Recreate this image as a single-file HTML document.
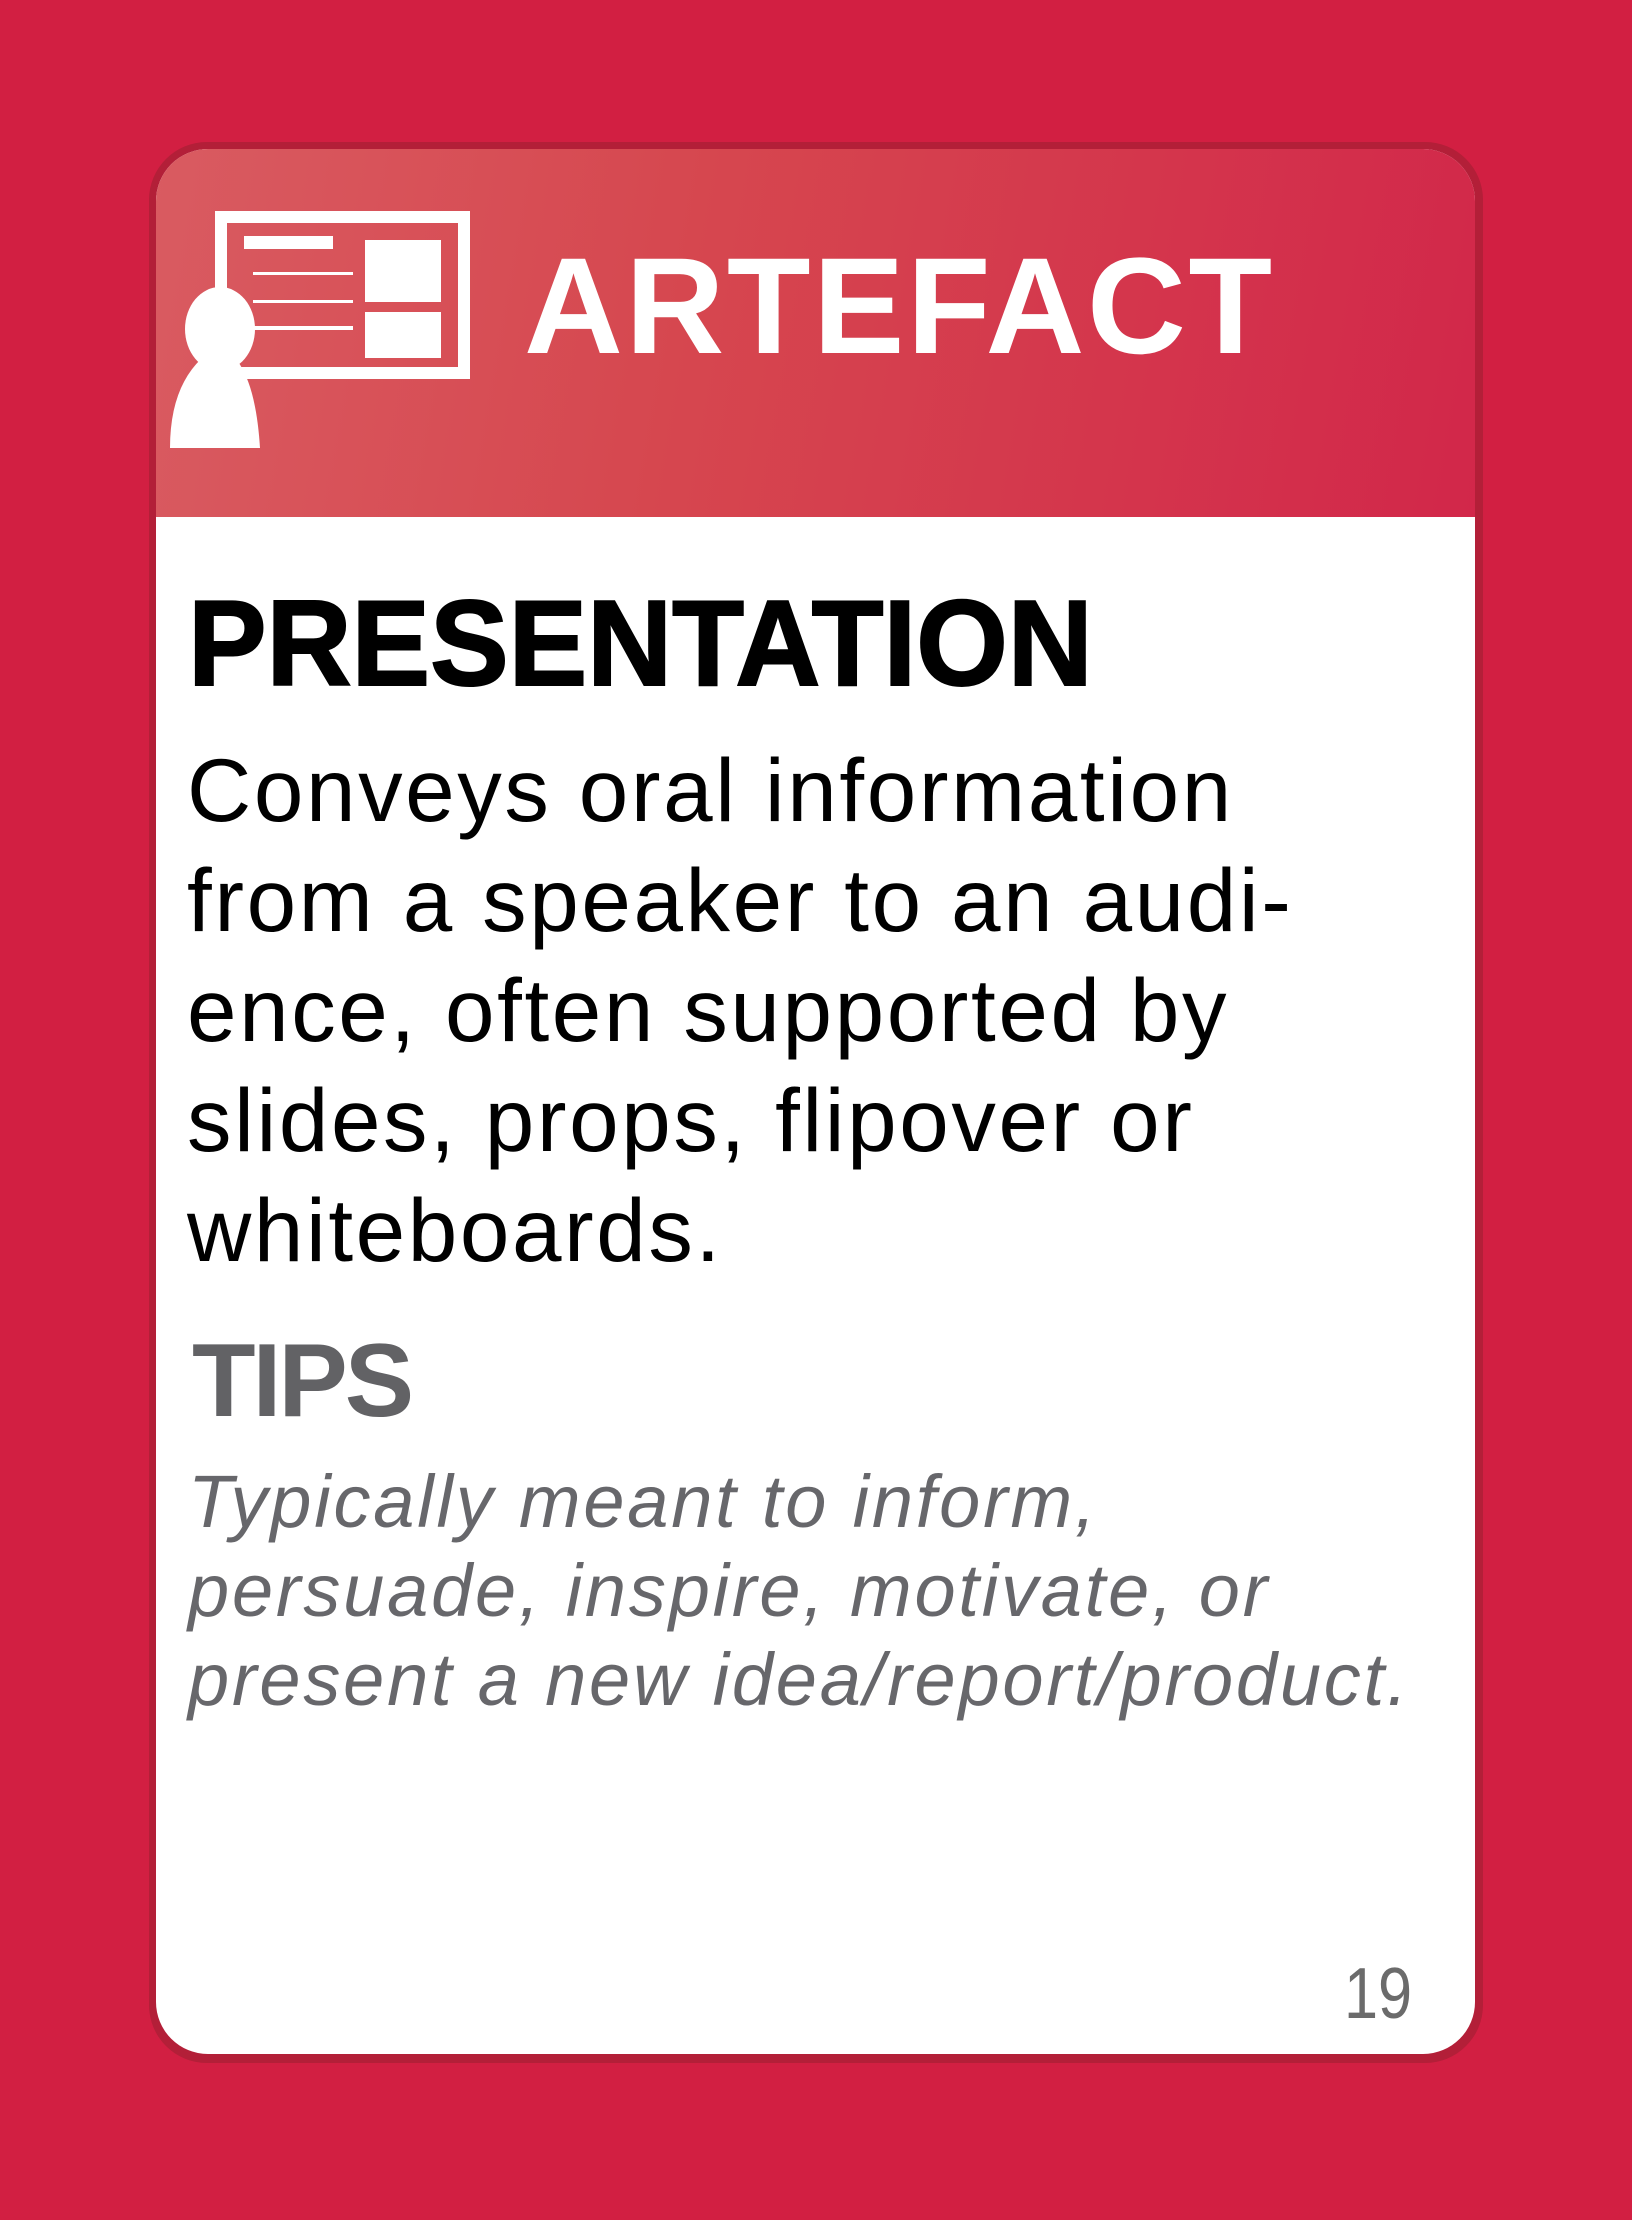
<!DOCTYPE html>
<html><head><meta charset="utf-8"><style>
html,body{margin:0;padding:0}
body{width:1632px;height:2220px;background:#d21f42;position:relative;overflow:hidden;font-family:"Liberation Sans",sans-serif}
.card{position:absolute;left:149px;top:142px;width:1334px;height:1921px;background:#b31f38;border-radius:58px}
.inner{position:absolute;left:7px;top:7px;width:1319px;height:1905px;background:#fff;border-radius:52px;overflow:hidden}
.head{position:absolute;left:0;top:0;width:1319px;height:368px;background:linear-gradient(100deg,#d95b61 0%,#d6474f 40%,#d2274a 100%)}
.t{position:absolute;white-space:nowrap;line-height:1}
</style></head><body>
<div class="card">
 <div class="inner">
  <div class="head">
   <svg width="340" height="320" style="position:absolute;left:0;top:0" viewBox="0 0 340 320">
    <rect x="65" y="68" width="243" height="156" fill="none" stroke="#fff" stroke-width="12"/>
    <rect x="88" y="87" width="89" height="13" fill="#fff"/>
    <rect x="97" y="123" width="100" height="3" fill="#fff"/>
    <rect x="97" y="151" width="100" height="3" fill="#fff"/>
    <rect x="97" y="177" width="100" height="4" fill="#fff"/>
    <rect x="209" y="91" width="76" height="62" fill="#fff"/>
    <rect x="209" y="163" width="76" height="46" fill="#fff"/>
    <ellipse cx="64" cy="180" rx="35" ry="42" fill="#fff"/>
    <path d="M45 210 L80 210 Q100 235 104 299 L14 299 Q14 240 45 210 Z" fill="#fff"/>
   </svg>
   <div class="t" style="left:368px;top:89px;font-size:137px;font-weight:bold;color:#fff;letter-spacing:2.5px">ARTEFACT</div>
  </div>
  <div class="t" style="left:32px;top:433px;font-size:122px;font-weight:bold;color:#000;transform:scaleX(0.965);transform-origin:left top;-webkit-text-stroke:2px #000">PRESENTATION</div>
  <div style="position:absolute;left:31px;top:586px;font-size:89px;line-height:110px;color:#000;width:1300px;letter-spacing:2.6px">Conveys oral information<br>from a speaker to an audi-<br>ence, often supported by<br>slides, props, flipover or<br>whiteboards.</div>
  <div class="t" style="left:36px;top:1180px;font-size:104px;font-weight:bold;color:#626265;letter-spacing:-3px">TIPS</div>
  <div style="position:absolute;left:32px;top:1308px;font-size:74px;line-height:89px;font-style:italic;color:#67676b;width:1300px;letter-spacing:2.8px">Typically meant to inform,<br>persuade, inspire, motivate, or<br>present a new idea/report/product.</div>
  <div class="t" style="left:1188px;top:1809px;font-size:72px;color:#6b6b6b;transform:scaleX(0.85);transform-origin:left top">19</div>
 </div>
</div>
</body></html>
